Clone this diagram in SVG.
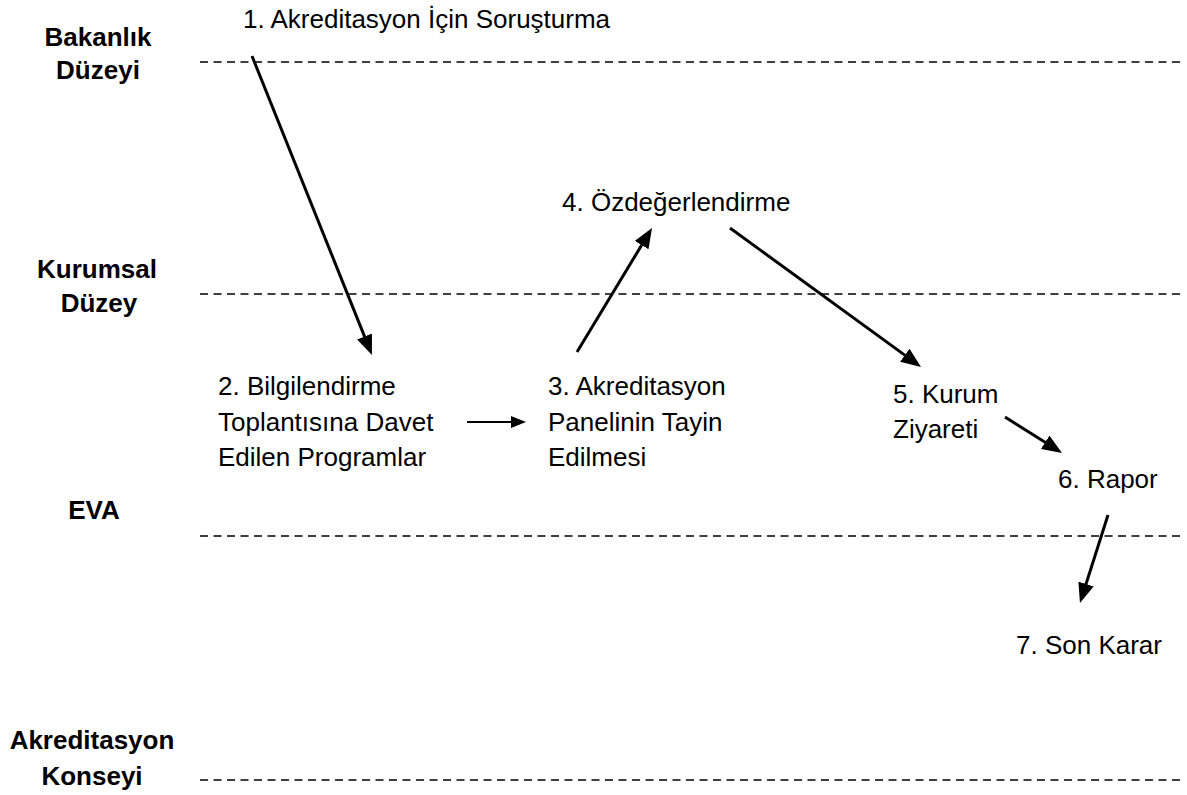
<svg xmlns="http://www.w3.org/2000/svg" width="1187" height="795" viewBox="0 0 1187 795">
<defs>
<style>
.t{font-family:"Liberation Sans",Arial,sans-serif;font-size:26px;fill:#000}
.b{font-family:"Liberation Sans",Arial,sans-serif;font-size:26px;font-weight:bold;fill:#000;text-anchor:middle}
.d{stroke:#000;stroke-width:1.6;stroke-dasharray:8 5.5;fill:none}
.a{stroke:#000;stroke-width:3;fill:none;marker-end:url(#ah)}
.a2{stroke:#000;stroke-width:2;fill:none;marker-end:url(#ah2)}
</style>
<marker id="ah" markerUnits="userSpaceOnUse" markerWidth="20" markerHeight="16" refX="8" refY="8" orient="auto" viewBox="0 0 20 16">
<path d="M0,0 L20,8 L0,16 z" fill="#000"/>
</marker>
<marker id="ah2" markerUnits="userSpaceOnUse" markerWidth="15" markerHeight="12" refX="6" refY="6" orient="auto" viewBox="0 0 15 12">
<path d="M0,0 L15,6 L0,12 z" fill="#000"/>
</marker>
</defs>
<rect width="1187" height="795" fill="#fff"/>
<g id="levels">
<text class="b" x="98" y="46">Bakanlık</text>
<text class="b" x="98" y="79">Düzeyi</text>
<text class="b" x="97" y="278">Kurumsal</text>
<text class="b" x="99" y="312">Düzey</text>
<text class="b" x="94" y="519">EVA</text>
<text class="b" x="92" y="749">Akreditasyon</text>
<text class="b" x="92" y="785">Konseyi</text>
<line class="d" x1="200" y1="62" x2="1184" y2="62"/>
<line class="d" x1="200" y1="294" x2="1184" y2="294"/>
<line class="d" x1="200" y1="536" x2="1184" y2="536"/>
<line class="d" x1="200" y1="780" x2="1184" y2="780"/>
</g>
<g id="n1"><text class="t" x="243" y="28">1. Akreditasyon İçin Soruşturma</text></g>
<g id="n2"><text class="t" x="218" y="395">2. Bilgilendirme</text><text class="t" x="218" y="431">Toplantısına Davet</text><text class="t" x="218" y="466">Edilen Programlar</text></g>
<g id="n3"><text class="t" x="548" y="395">3. Akreditasyon</text><text class="t" x="548" y="431">Panelinin Tayin</text><text class="t" x="548" y="466">Edilmesi</text></g>
<g id="n4"><text class="t" x="562" y="211">4. Özdeğerlendirme</text></g>
<g id="n5"><text class="t" x="893" y="403">5. Kurum</text><text class="t" x="893" y="438">Ziyareti</text></g>
<g id="n6"><text class="t" x="1058" y="488">6. Rapor</text></g>
<g id="n7"><text class="t" x="1016" y="654">7. Son Karar</text></g>
<g id="connectors">
<line class="a" x1="252" y1="56" x2="367.5" y2="343.9"/>
<line class="a2" x1="467" y1="422" x2="517" y2="422"/>
<line class="a" x1="577" y1="352" x2="645.8" y2="238.3"/>
<line class="a" x1="730" y1="228" x2="911.3" y2="359.9"/>
<line class="a" x1="1005" y1="417" x2="1051.9" y2="446.6"/>
<line class="a" x1="1108" y1="515" x2="1083.6" y2="591.6"/>
</g>
</svg>
